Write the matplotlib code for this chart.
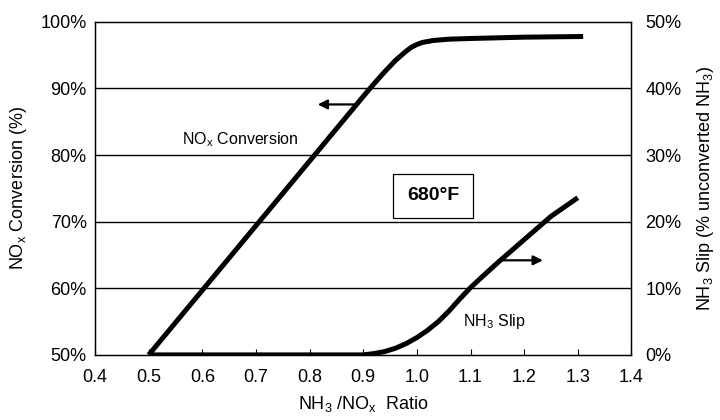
import matplotlib
matplotlib.use("Agg")
import matplotlib.pyplot as plt
import numpy as np

plt.rcParams['font.family'] = ['Liberation Sans', 'DejaVu Sans']
plt.rcParams['mathtext.fontset'] = 'custom'
plt.rcParams['mathtext.rm'] = 'Liberation Sans'

# Data
nox_ratio = [0.50, 0.60, 0.70, 0.80, 0.90, 0.92, 0.94, 0.96, 0.98, 0.99, 1.00, 1.01, 1.03, 1.06, 1.10, 1.20, 1.31]
nox_conv = [50.0, 59.7, 69.4, 79.1, 88.8, 90.7, 92.5, 94.2, 95.6, 96.2, 96.6, 96.9, 97.2, 97.4, 97.5, 97.7, 97.8]

slip_ratio = [0.50, 0.90, 0.92, 0.94, 0.96, 0.98, 1.00, 1.02, 1.04, 1.06, 1.08, 1.10, 1.12, 1.15, 1.20, 1.25, 1.30]
slip_pct = [0.0, 0.0, 0.2, 0.5, 1.0, 1.7, 2.6, 3.7, 5.0, 6.6, 8.4, 10.1, 11.6, 13.8, 17.3, 20.8, 23.6]

x_ticks = [0.4, 0.5, 0.6, 0.7, 0.8, 0.9, 1.0, 1.1, 1.2, 1.3, 1.4]
left_ticks = [50, 60, 70, 80, 90, 100]
right_ticks = [0, 10, 20, 30, 40, 50]

fig = plt.figure(figsize=(7.2, 4.2), dpi=100)
ax = fig.add_axes([0.132, 0.155, 0.745, 0.793])
ax2 = ax.twinx()

ax.set_xlim(0.4, 1.4)
ax.set_ylim(50, 100)
ax2.set_ylim(0, 50)

for y in left_ticks[1:-1]:
    ax.axhline(y, color='black', lw=1.0, zorder=1)

ax.plot(nox_ratio, nox_conv, color='black', lw=3.6, solid_capstyle='butt',
        solid_joinstyle='round', zorder=3)
ax2.plot(slip_ratio, slip_pct, color='black', lw=3.6, solid_capstyle='butt',
         solid_joinstyle='round', zorder=3)

ax.set_xticks(x_ticks)
ax.set_xticklabels([f"{v:.1f}" for v in x_ticks])
ax.set_yticks(left_ticks)
ax.set_yticklabels([f"{v}%" for v in left_ticks])
ax2.set_yticks(right_ticks)
ax2.set_yticklabels([f"{v}%" for v in right_ticks])

ax.tick_params(axis='x', direction='in', length=4, width=0.8, pad=10, labelsize=13)
ax.tick_params(axis='y', length=0, pad=6, labelsize=13)
ax2.tick_params(axis='y', length=0, pad=10, labelsize=13)

for a in (ax, ax2):
    for s in a.spines.values():
        s.set_linewidth(0.9)
        s.set_color('black')

ax.set_xlabel(r'NH$_\mathregular{3}$ /NO$_\mathregular{x}$  Ratio', fontsize=13, labelpad=6)
ax.set_ylabel(r'NO$_\mathregular{x}$ Conversion (%)', fontsize=13, labelpad=8)
ax2.set_ylabel(r'NH$_\mathregular{3}$ Slip (% unconverted NH$_\mathregular{3}$)', fontsize=13, labelpad=10)

ax.text(0.67, 82.3, r'NO$_\mathregular{x}$ Conversion', fontsize=11.5, ha='center', va='center', zorder=4)
ax2.text(1.145, 5.0, r'NH$_\mathregular{3}$ Slip', fontsize=11.5, ha='center', va='center', zorder=4)

ax.annotate('', xy=(0.81, 87.6), xytext=(0.895, 87.6),
            arrowprops=dict(arrowstyle='-|>', color='black', lw=1.6, mutation_scale=14), zorder=4)
ax2.annotate('', xy=(1.24, 14.2), xytext=(1.155, 14.2),
             arrowprops=dict(arrowstyle='-|>', color='black', lw=1.6, mutation_scale=14), zorder=4)

ax.text(1.03, 73.9, '680°F', fontsize=14, fontweight='bold', ha='center', va='center', zorder=5,
        bbox=dict(boxstyle='square,pad=0.7', fc='white', ec='black', lw=0.9))

fig.savefig('out.png', dpi=100)
